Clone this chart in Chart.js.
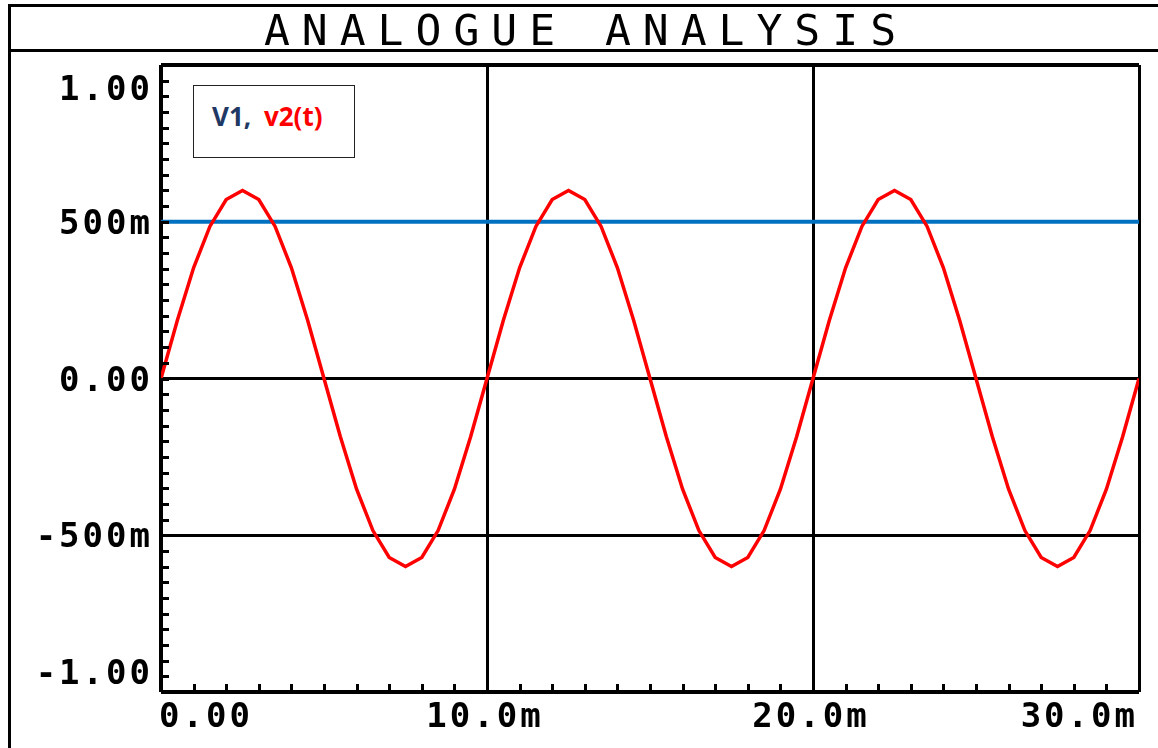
<!DOCTYPE html>
<html>
<head>
<meta charset="utf-8">
<script src="https://cdn.jsdelivr.net/npm/chart.js@4.4.1/dist/chart.umd.min.js"></script>
<style>
  html, body { margin: 0; padding: 0; background: #fff; }
  #wrap { position: relative; width: 1158px; height: 748px; overflow: hidden; }
  #frame { position: absolute; left: 8px; top: 4px; width: 1200px; height: 800px;
           border-left: 3px solid #000; border-top: 3px solid #000; }
  #titleLine { position: absolute; left: 8px; top: 49px; width: 1200px; height: 3px; background: #000; }
  #title { position: absolute; left: 0; top: 9px; width: 1158px; box-sizing: border-box; padding-left: 14px;
           text-align: center; font: 400 43px "DejaVu Sans Mono"; line-height: 43px;
           letter-spacing: 12px; color: #000; white-space: nowrap; }
  #legendBox { position: absolute; left: 193px; top: 85px; width: 162px; height: 73px; box-sizing: border-box;
               border: 1.5px solid #222; background: #fff; padding: 17px 0 0 18px;
               font: bold 26px "Open Sans"; line-height: 26px; white-space: nowrap; }
  #legendBox .v1 { color: #1F3864; }
  #legendBox .v2 { color: #FF0000; margin-left: 6px; }
  canvas { position: absolute; left: 0; top: 0; }
</style>
</head>
<body>
<div id="wrap">
  <canvas id="simChart" width="1158" height="748"></canvas>
  <div id="frame"></div>
  <div id="titleLine"></div>
  <div id="title">ANALOGUE ANALYSIS</div>
  <div id="legendBox"><span class="v1">V1,</span> <span class="v2">v2(t)</span></div>
</div>
<script>
// time axis in ms
const timeMs = [
    0, 0.5, 1, 1.5, 2, 2.5, 3, 3.5, 4, 4.5,
    5, 5.5, 6, 6.5, 7, 7.5, 8, 8.5, 9, 9.5,
    10, 10.5, 11, 11.5, 12, 12.5, 13, 13.5, 14, 14.5,
    15, 15.5, 16, 16.5, 17, 17.5, 18, 18.5, 19, 19.5,
    20, 20.5, 21, 21.5, 22, 22.5, 23, 23.5, 24, 24.5,
    25, 25.5, 26, 26.5, 27, 27.5, 28, 28.5, 29, 29.5,
    30
];

// v2(t) (volts)
const v2 = [
    0, 0.185, 0.353, 0.485, 0.571, 0.6, 0.571, 0.485, 0.353, 0.185,
    0, -0.185, -0.353, -0.485, -0.571, -0.6, -0.571, -0.485, -0.353, -0.185,
    0, 0.185, 0.353, 0.485, 0.571, 0.6, 0.571, 0.485, 0.353, 0.185,
    0, -0.185, -0.353, -0.485, -0.571, -0.6, -0.571, -0.485, -0.353, -0.185,
    0, 0.185, 0.353, 0.485, 0.571, 0.6, 0.571, 0.485, 0.353, 0.185,
    0, -0.185, -0.353, -0.485, -0.571, -0.6, -0.571, -0.485, -0.353, -0.185,
    0
];

// V1 is a flat DC level
const v1Time = [0, 30];
const v1 = [0.5, 0.5];

// tick labels
const yTickValues = [1, 0.5, 0, -0.5, -1];
const yTickLabels = ['1.00', '500m', '0.00', '-500m', '-1.00'];
const xTickValues = [0, 10, 20, 30];
const xTickLabels = ['0.00', '10.0m', '20.0m', '30.0m'];

const toPoints = (xs, ys) => xs.map((t, i) => ({ x: t, y: ys[i] }));

// minor ticks and the odd-aligned tick labels
const axisDecor = {
    id: 'axisDecor',
    afterDraw(chart) {
        const { ctx, chartArea } = chart;
        const xs = chart.scales.x;
        const ys = chart.scales.y;
        ctx.save();
        ctx.strokeStyle = '#000';
        ctx.lineWidth = 3;
        ctx.beginPath();
        // y minor ticks every 50m
        for (let i = 0; i <= 40; i++) {
            const py = Math.round(ys.getPixelForValue(-1 + i * 0.05)) + 0.5;
            ctx.moveTo(chartArea.left, py);
            ctx.lineTo(chartArea.left + 8, py);
        }
        // x minor ticks every 1m
        for (let i = 0; i <= 30; i++) {
            const px = Math.round(xs.getPixelForValue(i)) + 0.5;
            ctx.moveTo(px, chartArea.bottom);
            ctx.lineTo(px, chartArea.bottom - 8);
        }
        ctx.stroke();

        ctx.fillStyle = '#000';
        ctx.font = 'bold 34px "DejaVu Sans Mono"';
        ctx.letterSpacing = '3px';
        ctx.textBaseline = 'alphabetic';
        ctx.textAlign = 'right';
        yTickValues.forEach((v, i) => {
            let py = ys.getPixelForValue(v) + 12;
            if (i === 0) py += 23;
            if (i === yTickValues.length - 1) py -= 20;
            ctx.fillText(yTickLabels[i], chartArea.left - 8, py);
        });
        const by = chartArea.bottom + 35;
        xTickValues.forEach((v, i) => {
            const px = xs.getPixelForValue(v);
            if (i === 0) { ctx.textAlign = 'left'; ctx.fillText(xTickLabels[i], px - 2, by); }
            else if (i === xTickValues.length - 1) { ctx.textAlign = 'right'; ctx.fillText(xTickLabels[i], px - 1, by); }
            else { ctx.textAlign = 'center'; ctx.fillText(xTickLabels[i], px - 2, by); }
        });
        ctx.restore();
    }
};

const ctxSim = document.getElementById('simChart').getContext('2d');
new Chart(ctxSim, {
    type: 'line',
    data: {
        datasets: [{
            label: 'v2(t)',
            data: toPoints(timeMs, v2),
            borderColor: '#FF0000',
            borderWidth: 3.5,
            pointRadius: 0,
            tension: 0,
            order: 0
        }, {
            label: 'V1',
            data: toPoints(v1Time, v1),
            borderColor: '#0070C0',
            borderWidth: 4,
            pointRadius: 0,
            order: 1
        }]
    },
    options: {
        responsive: false,
        devicePixelRatio: 1,
        animation: false,
        layout: { padding: { left: 161, top: 65, right: 19, bottom: 56 } },
        scales: {
            x: {
                type: 'linear',
                min: 0,
                max: 30,
                ticks: { stepSize: 10, display: false },
                grid: {
                    color: '#000',
                    lineWidth: c => (c.tick && c.tick.value === 0) ? 4 : 3,
                    drawTicks: false
                },
                border: { display: false }
            },
            y: {
                type: 'linear',
                min: -1,
                max: 1,
                ticks: { stepSize: 0.5, display: false },
                grid: {
                    color: '#000',
                    lineWidth: c => (c.tick && Math.abs(c.tick.value) === 1) ? 4 : 3,
                    drawTicks: false
                },
                border: { display: false }
            }
        },
        plugins: {
            legend: { display: false },
            tooltip: { enabled: false }
        }
    },
    plugins: [axisDecor]
});
</script>
</body>
</html>
